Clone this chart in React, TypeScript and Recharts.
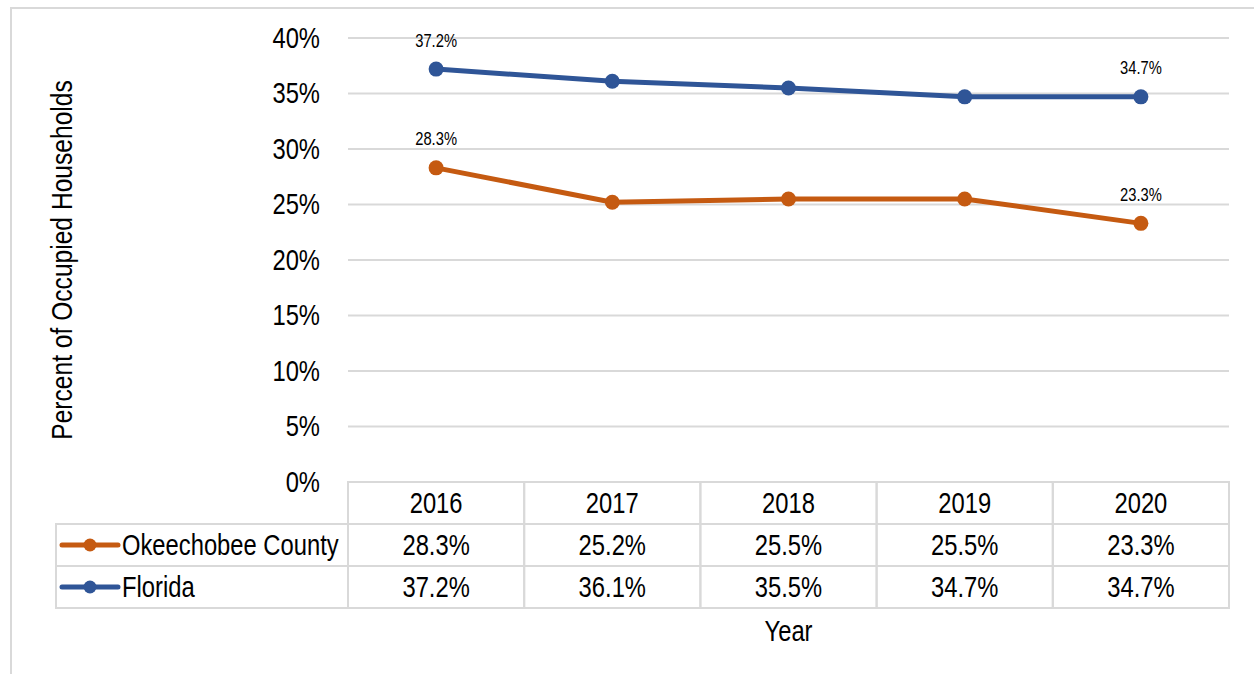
import React from 'react'
import { LineChart, Line, XAxis, YAxis, CartesianGrid, LabelList } from 'recharts'

const years = ['2016', '2017', '2018', '2019', '2020']
const okeechobee = [28.3, 25.2, 25.5, 25.5, 23.3]
const florida = [37.2, 36.1, 35.5, 34.7, 34.7]
const yTicks = [0, 5, 10, 15, 20, 25, 30, 35, 40]

const series = [
  { key: 'okeechobee', name: 'Okeechobee County', color: '#c55a11', values: okeechobee },
  { key: 'florida', name: 'Florida', color: '#2f5597', values: florida },
]

const data = years.map((year, i) => ({ year, okeechobee: okeechobee[i], florida: florida[i] }))

// layout
const W = 1254
const H = 674
const PLOT_LEFT = 348
const PLOT_RIGHT = 1229
const PLOT_TOP = 38
const PLOT_BOTTOM = 482
const CELL = (PLOT_RIGHT - PLOT_LEFT) / years.length
const ROW_H = 42
const LEGEND_LEFT = 56
const BORDER = '#d9d9d9'
const FONT = '"Liberation Sans", Arial, sans-serif'
const TEXT = '#000'
const BIG = 29

const pct = (v: number) => `${v.toFixed(1)}%`

// Arial Narrow isn't installed, so squeeze Liberation Sans horizontally
function Narrow({ x, y, size = BIG, anchor = 'middle', rotate = 0, children }: any) {
  return (
    <g transform={`translate(${x},${y}) rotate(${rotate}) scale(0.82,1)`}>
      <text x={0} y={0} textAnchor={anchor} dominantBaseline="central" fontSize={size} fontFamily={FONT} fill={TEXT}>
        {children}
      </text>
    </g>
  )
}

function TableTick(props: any) {
  const { x, y, payload } = props
  const i = years.indexOf(String(payload.value))
  const left = x - CELL / 2
  return (
    <g>
      <rect x={left} y={y} width={CELL} height={ROW_H * 3} fill="none" stroke={BORDER} strokeWidth={2} />
      <line x1={left} x2={left + CELL} y1={y + ROW_H} y2={y + ROW_H} stroke={BORDER} strokeWidth={2} />
      <line x1={left} x2={left + CELL} y1={y + ROW_H * 2} y2={y + ROW_H * 2} stroke={BORDER} strokeWidth={2} />
      <Narrow x={x} y={y + ROW_H / 2}>{payload.value}</Narrow>
      {series.map((s, r) => (
        <Narrow key={s.key} x={x} y={y + ROW_H * (r + 1) + ROW_H / 2}>
          {pct(s.values[i])}
        </Narrow>
      ))}
      {i === 0 && (
        <g>
          <rect x={LEGEND_LEFT} y={y + ROW_H} width={left - LEGEND_LEFT} height={ROW_H * 2} fill="none" stroke={BORDER} strokeWidth={2} />
          <line x1={LEGEND_LEFT} x2={left} y1={y + ROW_H * 2} y2={y + ROW_H * 2} stroke={BORDER} strokeWidth={2} />
          {series.map((s, r) => {
            const cy = y + ROW_H * (r + 1) + ROW_H / 2
            return (
              <g key={s.key}>
                <line x1={LEGEND_LEFT + 6} x2={LEGEND_LEFT + 62} y1={cy} y2={cy} stroke={s.color} strokeWidth={5} strokeLinecap="round" />
                <circle cx={LEGEND_LEFT + 34} cy={cy} r={6.5} fill={s.color} />
                <Narrow x={LEGEND_LEFT + 66} y={cy} anchor="start">{s.name}</Narrow>
              </g>
            )
          })}
        </g>
      )}
    </g>
  )
}

function PctTick(props: any) {
  const { x, y, payload } = props
  return <Narrow x={x} y={y} anchor="end">{`${payload.value}%`}</Narrow>
}

function EndLabel(props: any) {
  const { x, y, value, index } = props
  if (index !== 0 && index !== years.length - 1) return null
  return <Narrow x={x} y={y - 29} size={18}>{pct(value)}</Narrow>
}

function YTitle(props: any) {
  const { viewBox } = props
  return (
    <Narrow x={62} y={viewBox.y + viewBox.height / 2} size={30} rotate={-90}>
      Percent of Occupied Households
    </Narrow>
  )
}

function XTitle(props: any) {
  const { viewBox } = props
  return <Narrow x={viewBox.x + viewBox.width / 2} y={631}>Year</Narrow>
}

export default function App() {
  return (
    <div style={{ position: 'absolute', left: 0, top: 0, width: W, height: H, background: '#fff', overflow: 'hidden' }}>
      <div style={{ position: 'absolute', left: 10, top: 7, width: W, height: H, borderLeft: `2px solid ${BORDER}`, borderTop: `2px solid ${BORDER}` }} />
      <div style={{ position: 'absolute', left: 0, top: 0 }}>
        <LineChart width={W} height={H} data={data} margin={{ top: PLOT_TOP, right: W - PLOT_RIGHT, left: 0, bottom: 0 }}>
          <CartesianGrid vertical={false} stroke={BORDER} strokeWidth={2} />
          <XAxis
            dataKey="year"
            height={H - PLOT_BOTTOM}
            padding={{ left: CELL / 2, right: CELL / 2 }}
            axisLine={false}
            tickLine={false}
            tickSize={0}
            tickMargin={0}
            interval={0}
            tick={<TableTick />}
            label={<XTitle />}
          />
          <YAxis
            width={PLOT_LEFT}
            domain={[0, 40]}
            ticks={yTicks}
            axisLine={false}
            tickLine={false}
            tickSize={0}
            tickMargin={28}
            tick={<PctTick />}
            label={<YTitle />}
          />
          {series.map((s) => (
            <Line
              key={s.key}
              dataKey={s.key}
              name={s.name}
              stroke={s.color}
              strokeWidth={5}
              dot={{ r: 7.5, fill: s.color, stroke: s.color, strokeWidth: 0 }}
              isAnimationActive={false}
            >
              <LabelList dataKey={s.key} content={<EndLabel />} />
            </Line>
          ))}
        </LineChart>
      </div>
    </div>
  )
}
